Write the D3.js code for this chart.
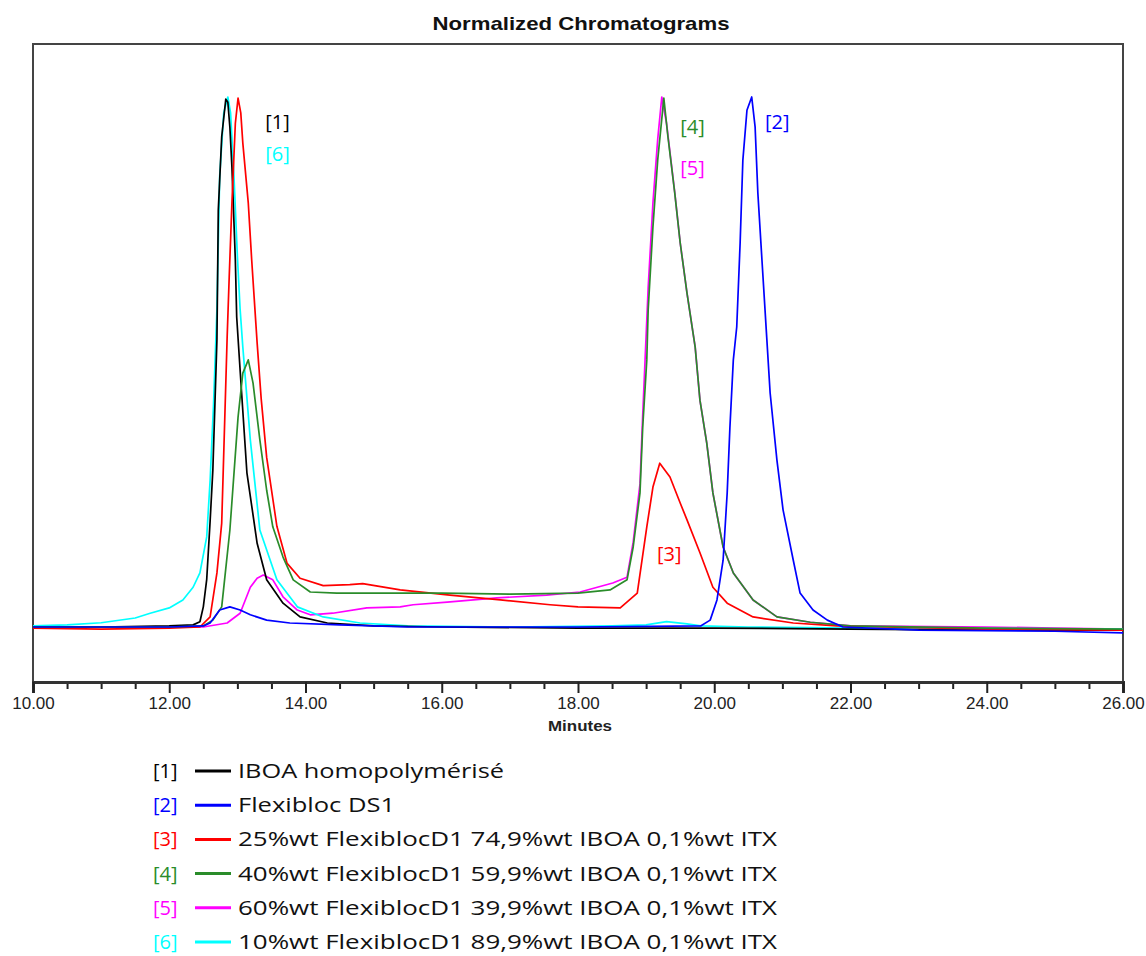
<!DOCTYPE html>
<html>
<head>
<meta charset="utf-8">
<script src="https://cdn.jsdelivr.net/npm/d3@7"></script>
<style>
  html, body { margin: 0; padding: 0; background: #fff; }
  svg { display: block; }
</style>
</head>
<body>
<svg id="chart" width="1146" height="956"></svg>
<script>
// ---------- DATA ----------
const title = "Normalized Chromatograms";
const xLabel = "Minutes";
const majorTicks = [10, 12, 14, 16, 18, 20, 22, 24, 26];
const minorTicks = [10.5, 11, 11.5, 12.5, 13, 13.5, 14.5, 15, 15.5, 16.5, 17, 17.5, 18.5, 19, 19.5, 20.5, 21, 21.5, 22.5, 23, 23.5, 24.5, 25, 25.5];

const seriesIds = ["[1]", "[2]", "[3]", "[4]", "[5]", "[6]"];
const seriesNames = [
  "IBOA homopolymérisé",
  "Flexibloc DS1",
  "25%wt FlexiblocD1 74,9%wt IBOA 0,1%wt ITX",
  "40%wt FlexiblocD1 59,9%wt IBOA 0,1%wt ITX",
  "60%wt FlexiblocD1 39,9%wt IBOA 0,1%wt ITX",
  "10%wt FlexiblocD1 89,9%wt IBOA 0,1%wt ITX"
];
const seriesColors = ["#000000", "#0000ff", "#ff0000", "#2a8c2a", "#ff00ff", "#00ffff"];

// [minutes, normalized response]
const s1 = [[10,0],[11,0],[12,0.002],[12.35,0.004],[12.45,0.01],[12.5,0.038],[12.55,0.09],[12.6,0.2],[12.64,0.296],[12.7,0.542],[12.72,0.787],[12.77,0.925],[12.83,0.996],[12.86,0.99],[12.89,0.943],[12.92,0.868],[12.97,0.693],[12.99,0.585],[13.04,0.485],[13.14,0.291],[13.29,0.158],[13.43,0.089],[13.67,0.045],[13.92,0.019],[14.32,0.0075],[15,0.002],[16,0],[18,-0.002],[20,-0.002],[22,-0.004],[24,-0.006],[26,-0.006]];
const s2 = [[10,0],[12,0],[12.5,0.002],[12.6,0.0075],[12.74,0.032],[12.89,0.038],[13.04,0.032],[13.19,0.023],[13.43,0.013],[13.77,0.0075],[14.5,0.004],[15.5,0],[18,0],[19.8,0.002],[19.94,0.013],[20.04,0.051],[20.13,0.126],[20.19,0.253],[20.23,0.377],[20.28,0.504],[20.33,0.566],[20.38,0.725],[20.42,0.881],[20.48,0.975],[20.55,1.0],[20.6,0.943],[20.64,0.819],[20.7,0.693],[20.77,0.547],[20.82,0.442],[20.92,0.315],[21.01,0.221],[21.16,0.126],[21.26,0.064],[21.45,0.032],[21.66,0.013],[21.89,0],[23,-0.006],[25,-0.008],[26,-0.011]];
const s3 = [[10,-0.002],[11,-0.004],[12,-0.002],[12.45,0],[12.6,0.019],[12.7,0.102],[12.77,0.196],[12.85,0.547],[12.88,0.66],[12.92,0.8],[12.97,0.95],[13.01,0.998],[13.05,0.97],[13.08,0.913],[13.16,0.8],[13.21,0.693],[13.29,0.536],[13.35,0.43],[13.43,0.32],[13.58,0.19],[13.73,0.12],[13.92,0.092],[14.26,0.078],[14.65,0.08],[14.84,0.082],[15.39,0.07],[16.12,0.06],[16.86,0.051],[17.59,0.042],[18.0,0.038],[18.62,0.036],[18.87,0.064],[19.01,0.189],[19.1,0.264],[19.2,0.309],[19.35,0.283],[19.5,0.234],[19.6,0.202],[19.79,0.14],[19.98,0.075],[20.19,0.045],[20.57,0.019],[21.16,0.0075],[21.8,0.002],[22.5,0],[24,-0.004],[26,-0.006]];
const s4 = [[10,0],[12,0],[12.5,0.002],[12.64,0.013],[12.77,0.038],[12.89,0.183],[13.01,0.396],[13.08,0.479],[13.16,0.504],[13.23,0.46],[13.33,0.353],[13.43,0.258],[13.52,0.189],[13.67,0.132],[13.82,0.089],[14.07,0.066],[14.46,0.064],[15,0.064],[16,0.064],[17,0.062],[18,0.064],[18.47,0.07],[18.72,0.089],[18.81,0.151],[18.91,0.253],[18.95,0.377],[19.01,0.504],[19.03,0.598],[19.1,0.755],[19.17,0.881],[19.26,0.998],[19.32,0.925],[19.42,0.819],[19.5,0.725],[19.6,0.63],[19.72,0.528],[19.79,0.428],[19.89,0.347],[19.98,0.253],[20.13,0.151],[20.28,0.102],[20.57,0.051],[20.92,0.019],[21.41,0.009],[22,0.002],[24,-0.002],[26,-0.004]];
const s5 = [[10,0],[12.5,0],[12.85,0.0075],[13.04,0.026],[13.19,0.075],[13.29,0.092],[13.38,0.098],[13.52,0.089],[13.67,0.057],[13.88,0.032],[14.07,0.023],[14.4,0.026],[14.9,0.036],[15.39,0.038],[15.58,0.042],[16.08,0.047],[16.81,0.055],[17.54,0.06],[18.03,0.066],[18.51,0.083],[18.72,0.094],[18.81,0.16],[18.91,0.27],[18.95,0.4],[19.0,0.55],[19.03,0.64],[19.1,0.8],[19.17,0.92],[19.23,1.0],[19.3,0.95],[19.42,0.82],[19.5,0.725],[19.6,0.63],[19.72,0.528],[19.79,0.428],[19.89,0.347],[19.98,0.253],[20.13,0.151],[20.28,0.102],[20.57,0.051],[20.92,0.019],[21.41,0.009],[22,0.002],[24,0.0],[25,-0.002],[26,-0.004]];
const s6 = [[10,0.002],[10.5,0.004],[11,0.008],[11.5,0.017],[11.72,0.026],[12.0,0.036],[12.2,0.051],[12.35,0.075],[12.45,0.102],[12.55,0.17],[12.6,0.277],[12.65,0.42],[12.7,0.6],[12.74,0.85],[12.8,0.97],[12.86,1.0],[12.9,0.97],[12.95,0.85],[13.0,0.7],[13.04,0.6],[13.08,0.528],[13.19,0.353],[13.33,0.183],[13.58,0.089],[13.88,0.038],[14.26,0.019],[14.8,0.0075],[15.5,0.002],[17,0],[18.5,0.002],[19,0.004],[19.3,0.01],[19.6,0.006],[19.8,0.002],[20.5,0],[22,-0.002],[26,-0.004]];
const seriesData = [s1, s2, s3, s4, s5, s6];
const drawOrder = [4, 5, 0, 2, 3, 1];

// in-plot bracket labels: [series index, minutes, response]
const peakLabels = [[0, 13.41, 0.94], [5, 13.41, 0.88], [3, 19.5, 0.93], [4, 19.5, 0.852], [1, 20.745, 0.94], [2, 19.16, 0.124]];

// ---------- LAYOUT ----------
const svg = d3.select("#chart");
const x = d3.scaleLinear().domain([10, 26]).range([33, 1123]);
const y = d3.scaleLinear().domain([0, 1]).range([627, 97]);
const plotTop = 44, plotBottom = 682;

svg.append("text")
  .attr("x", 581).attr("y", 30)
  .attr("text-anchor", "middle")
  .attr("font-family", "Liberation Sans, Arial, sans-serif")
  .attr("font-weight", "bold")
  .attr("font-size", 19)
  .attr("textLength", 297).attr("lengthAdjust", "spacingAndGlyphs")
  .attr("fill", "#111")
  .text(title);

// frame
svg.append("path")
  .attr("d", `M${x(10)},${plotBottom}V${plotTop}H${x(26)}V${plotBottom}`)
  .attr("fill", "none").attr("stroke", "#444").attr("stroke-width", 2);

// lines
const line = d3.line().x(d => x(d[0])).y(d => y(d[1]));
const g = svg.append("g");
drawOrder.forEach(i => {
  g.append("path")
    .datum(seriesData[i])
    .attr("d", line)
    .attr("fill", "none")
    .attr("stroke", seriesColors[i])
    .attr("stroke-width", 1.7)
    .attr("stroke-linejoin", "round");
});

// axes
const axisMinor = d3.axisBottom(x).tickValues(minorTicks).tickSize(7).tickFormat("");
const axisMajor = d3.axisBottom(x).tickValues(majorTicks).tickSize(11).tickPadding(4).tickFormat(d3.format(".2f"));
const gMinor = svg.append("g").attr("transform", `translate(0,${plotBottom})`).call(axisMinor);
gMinor.select(".domain").remove();
gMinor.selectAll(".tick line").attr("stroke", "#222").attr("stroke-width", 2);
const gMajor = svg.append("g").attr("transform", `translate(0,${plotBottom})`).call(axisMajor);
gMajor.select(".domain").attr("stroke", "#333").attr("stroke-width", 3);
gMajor.selectAll(".tick line").attr("stroke", "#222").attr("stroke-width", 2);
gMajor.selectAll(".tick text")
  .attr("font-family", "Liberation Sans, Arial, sans-serif")
  .attr("font-size", 17)
  .attr("fill", "#222");

svg.append("text")
  .attr("x", 580).attr("y", 731)
  .attr("text-anchor", "middle")
  .attr("font-family", "Liberation Sans, Arial, sans-serif")
  .attr("font-weight", "bold")
  .attr("font-size", 14)
  .attr("textLength", 64).attr("lengthAdjust", "spacingAndGlyphs")
  .attr("fill", "#222")
  .text(xLabel);

// peak labels
const labelFont = "Open Sans, Lato, sans-serif";
peakLabels.forEach(p => {
  svg.append("text")
    .attr("x", x(p[1])).attr("y", y(p[2]))
    .attr("font-family", labelFont)
    .attr("font-size", 20)
    .attr("fill", seriesColors[p[0]])
    .text(seriesIds[p[0]]);
});

// legend
const legendX = 153, legendY0 = 778, legendDy = 34.2;
const legendWidths = [266, 157, 539, 539, 539, 539];
seriesIds.forEach((id, i) => {
  const yy = legendY0 + i * legendDy;
  svg.append("text")
    .attr("x", legendX).attr("y", yy)
    .attr("font-family", labelFont)
    .attr("font-size", 20)
    .attr("fill", seriesColors[i])
    .text(id);
  svg.append("line")
    .attr("x1", 195).attr("x2", 231)
    .attr("y1", yy - 7).attr("y2", yy - 7)
    .attr("stroke", seriesColors[i]).attr("stroke-width", 3);
  svg.append("text")
    .attr("x", 238).attr("y", yy)
    .attr("font-family", labelFont)
    .attr("font-size", 20)
    .attr("fill", "#111")
    .attr("textLength", legendWidths[i]).attr("lengthAdjust", "spacingAndGlyphs")
    .text(seriesNames[i]);
});
</script>
</body>
</html>
